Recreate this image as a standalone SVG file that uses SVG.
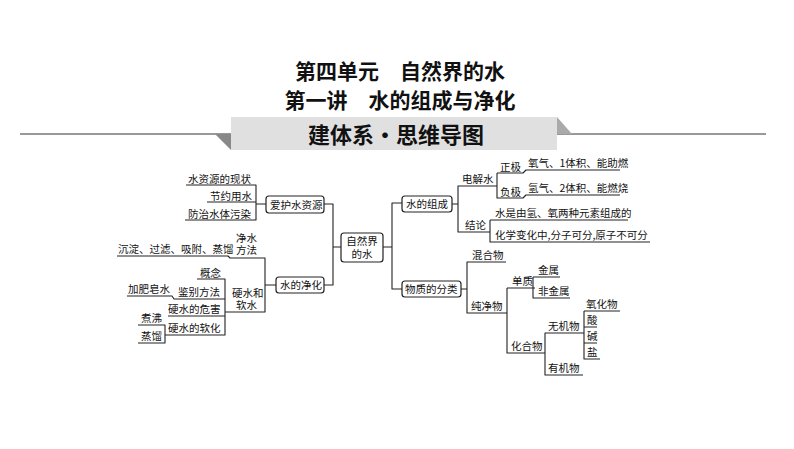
<svg xmlns="http://www.w3.org/2000/svg" width="794" height="449" viewBox="0 0 794 449">
<style>
text{font-family:"Noto Sans CJK SC","Noto Sans",sans-serif;fill:#111}
.t{font-size:10.5px}
.h{font-size:21px;font-weight:bold;text-anchor:middle}
.b{fill:#fff;stroke:#222;stroke-width:1.2}
.c path{fill:none;stroke:#222;stroke-width:1.1;stroke-linejoin:round}
</style>
<rect width="794" height="449" fill="#fff"/>
<g id="title">
<text class="h" x="400" y="79">第四单元　自然界的水</text>
<text class="h" x="400" y="108">第一讲　水的组成与净化</text>
<line x1="20" y1="134" x2="766" y2="134" stroke="#999" stroke-width="2"/>
<polygon points="215,134 231,134 231,150" fill="#888"/>
<polygon points="557,117 572,134 557,134" fill="#aaa"/>
<rect x="231" y="117" width="326" height="33" fill="#e0e0e0"/>
<text class="h" x="396" y="143" style="font-size:22px">建体系·思维导图</text>
</g>
<g class="c" id="connectors">
<path d="M186,185H256V220H185M207,202H256M256,204H266"/>
<path d="M324,204H333V285H324M333,247H341"/>
<path d="M117,256H228L230,258H265V312H225M265,285H276"/>
<path d="M197,279H225V335H165M127,296H172L174,299H225M168,316H225"/>
<path d="M138,325H165V343H138"/>
<path d="M383,247H392V203H402M392,247V289H402"/>
<path d="M452,204H458V186H497M458,204V232H490"/>
<path d="M497,173V198H523L526,195H620M497,173H523L526,170H620"/>
<path d="M490,220V242H650M490,220H628"/>
<path d="M461,289H467V262H506M467,289V313H507"/>
<path d="M507,288V353H543M507,288H535M533,277V298H570M533,277H560"/>
<path d="M543,353H545V333H584M545,353V375H583"/>
<path d="M584,311V359H600M584,311H620M584,327H597M584,343H597"/>
</g>
<g id="n-love"><rect class="b" x="266" y="196" width="58" height="17" rx="3"/><text class="t" x="270" y="208.5">爱护水资源</text></g>
<g id="n-purify"><rect class="b" x="276" y="277" width="48" height="16" rx="3"/><text class="t" x="280" y="289">水的净化</text></g>
<g id="n-center"><rect class="b" x="341" y="233" width="42" height="29" rx="3"/><text class="t" x="362" y="245" text-anchor="middle">自然界</text><text class="t" x="362" y="257.5" text-anchor="middle">的水</text></g>
<g id="n-comp"><rect class="b" x="402" y="196" width="50" height="16" rx="3"/><text class="t" x="406" y="208">水的组成</text></g>
<g id="n-class"><rect class="b" x="402" y="281" width="59" height="16" rx="3"/><text class="t" x="405" y="293">物质的分类</text></g>
<g id="labels" class="t">
<text class="t" x="188" y="183">水资源的现状</text>
<text class="t" x="210" y="200">节约用水</text>
<text class="t" x="188" y="218">防治水体污染</text>
<text class="t" x="118" y="253">沉淀、过滤、吸附、蒸馏</text>
<text class="t" x="236" y="242">净水</text>
<text class="t" x="236" y="254">方法</text>
<text class="t" x="200" y="277">概念</text>
<text class="t" x="178" y="296">鉴别方法</text>
<text class="t" x="128" y="293">加肥皂水</text>
<text class="t" x="232" y="297">硬水和</text>
<text class="t" x="236" y="309">软水</text>
<text class="t" x="168" y="313">硬水的危害</text>
<text class="t" x="168" y="332">硬水的软化</text>
<text class="t" x="141" y="322">煮沸</text>
<text class="t" x="141" y="340">蒸馏</text>
<text class="t" x="462" y="183">电解水</text>
<text class="t" x="500" y="171">正极</text>
<text class="t" x="528" y="167">氧气、1体积、能助燃</text>
<text class="t" x="500" y="196">负极</text>
<text class="t" x="528" y="192">氢气、2体积、能燃烧</text>
<text class="t" x="465" y="229">结论</text>
<text class="t" x="495" y="217">水是由氢、氧两种元素组成的</text>
<text class="t" x="495" y="239">化学变化中,分子可分,原子不可分</text>
<text class="t" x="472" y="259">混合物</text>
<text class="t" x="471" y="310">纯净物</text>
<text class="t" x="512" y="285">单质</text>
<text class="t" x="538" y="274">金属</text>
<text class="t" x="538" y="295">非金属</text>
<text class="t" x="511" y="350">化合物</text>
<text class="t" x="548" y="330">无机物</text>
<text class="t" x="548" y="372">有机物</text>
<text class="t" x="586" y="308">氧化物</text>
<text class="t" x="587" y="324">酸</text>
<text class="t" x="587" y="340">碱</text>
<text class="t" x="587" y="356">盐</text>
</g>
</svg>
